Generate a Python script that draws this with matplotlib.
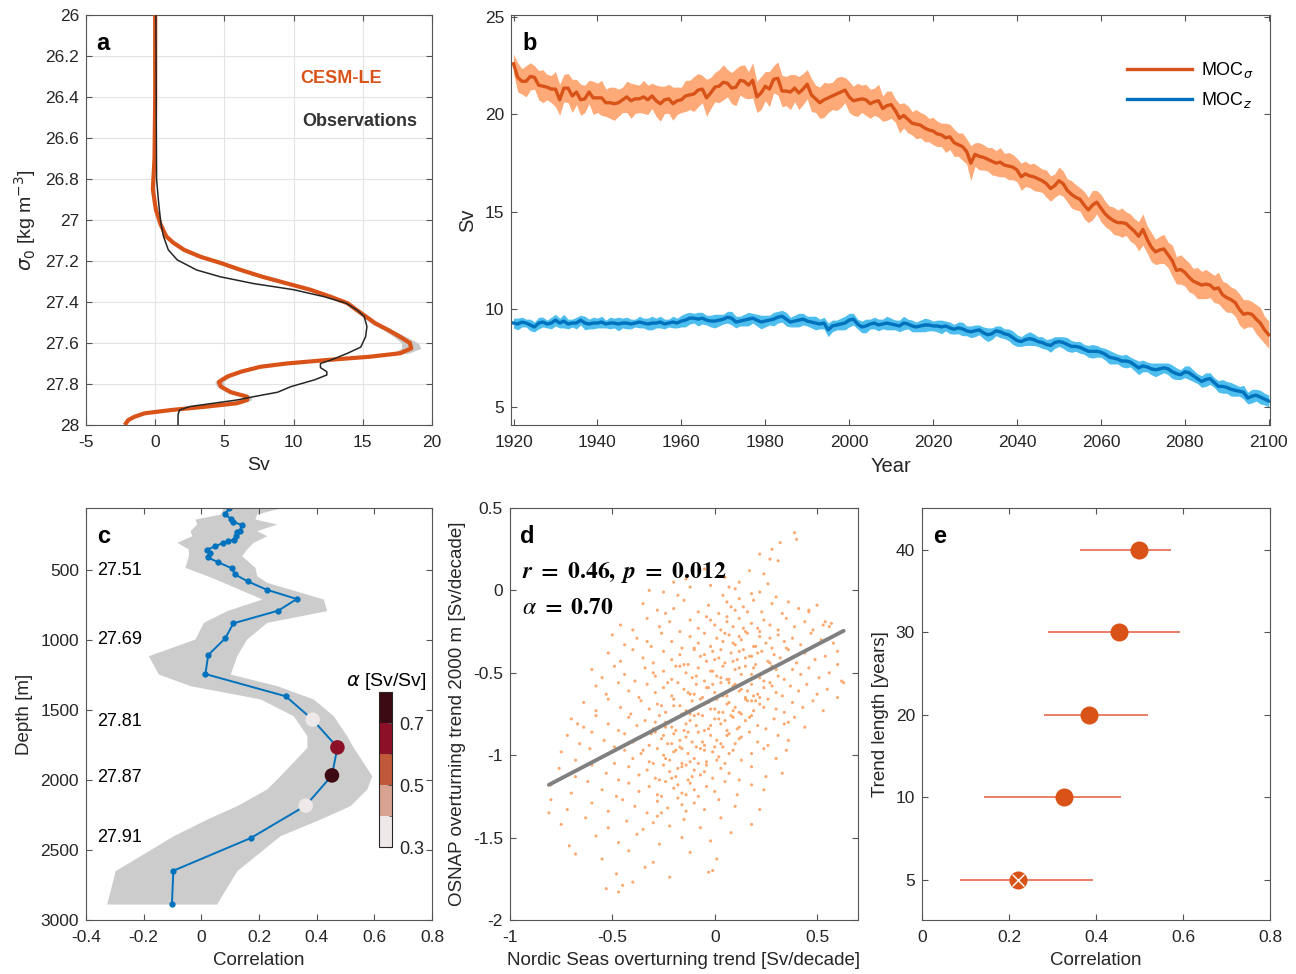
import numpy as np
import matplotlib
matplotlib.use("Agg")
import matplotlib.pyplot as plt
from matplotlib.colors import ListedColormap, BoundaryNorm
from matplotlib.ticker import FormatStrFormatter
import matplotlib.colorbar as mcolorbar

# -----------------------------
# DATA
# -----------------------------
# (a) overturning streamfunction in density space
cesm_sigma = [26.00, 26.40, 26.70, 26.85, 26.95, 27.02, 27.08, 27.11, 27.146, 27.18,
              27.21, 27.244, 27.277, 27.31, 27.34, 27.374, 27.406, 27.44, 27.47, 27.504,
              27.537, 27.57, 27.60, 27.626, 27.65, 27.667, 27.683, 27.70, 27.716, 27.74,
              27.764, 27.79, 27.813, 27.84, 27.862, 27.878, 27.894, 27.91, 27.927, 27.943,
              27.96, 27.976, 28.00]
cesm_sv = [0.0, 0.0, -0.05, -0.17, 0.05, 0.38, 0.8, 1.29, 2.1, 3.3,
           4.75, 6.2, 7.75, 9.55, 11.2, 12.66, 13.9, 14.58, 15.2, 15.9,
           16.85, 17.7, 18.4, 18.5, 17.7, 15.5, 12.4, 9.5, 7.6, 6.2,
           5.2, 4.6, 4.75, 5.46, 6.65, 6.65, 5.9, 3.75, 1.15, -0.77,
           -1.5, -1.95, -2.2]
cesm_spread = [0.0, 0.0, 0.05, 0.05, 0.05, 0.1, 0.15, 0.2, 0.25, 0.3,
               0.35, 0.35, 0.35, 0.3, 0.3, 0.3, 0.25, 0.25, 0.25, 0.3,
               0.35, 0.45, 0.6, 0.7, 0.6, 0.4, 0.3, 0.25, 0.25, 0.25,
               0.25, 0.3, 0.3, 0.3, 0.3, 0.3, 0.3, 0.25, 0.2, 0.15,
               0.1, 0.1, 0.1]
obs_sigma = [26.00, 26.80, 26.88, 26.95, 27.02, 27.08, 27.146, 27.195, 27.244, 27.277,
             27.31, 27.34, 27.374, 27.406, 27.44, 27.47, 27.52, 27.57, 27.62, 27.65,
             27.683, 27.70, 27.72, 27.74, 27.756, 27.78, 27.813, 27.84, 27.862, 27.878,
             27.894, 27.91, 27.927, 27.95, 28.00]
obs_sv = [0.05, 0.1, 0.2, 0.3, 0.42, 0.6, 0.95, 1.6, 3.0, 4.7,
          7.1, 10.0, 12.2, 13.8, 14.6, 15.1, 15.3, 15.2, 14.85, 13.9,
          12.7, 11.94, 11.94, 12.4, 12.4, 11.5, 9.8, 8.85, 7.1, 5.9,
          4.2, 2.5, 1.75, 1.65, 1.65]

# (b) MOC time series 1920-2100
years = np.arange(1920, 2101)
moc_sigma = [22.6, 21.9, 21.7, 21.7, 21.95, 21.9, 21.5, 21.45, 21.4, 21.3,
             21.3, 20.75, 21.35, 21.35, 20.95, 21.15, 20.75, 20.8, 21.15, 20.85,
             20.85, 20.85, 20.6, 20.6, 20.55, 20.6, 20.75, 20.9, 20.7, 20.8,
             20.8, 20.9, 20.75, 20.95, 20.7, 20.55, 20.75, 20.8, 20.55, 20.7,
             20.75, 20.95, 21.0, 21.05, 21.25, 21.3, 20.85, 21.1, 21.4, 21.45,
             21.65, 21.6, 21.35, 21.4, 21.75, 21.7, 21.5, 21.75, 20.9, 21.1,
             21.45, 21.3, 21.8, 21.85, 21.2, 21.2, 21.15, 21.35, 21.1, 21.3,
             21.55, 21.0, 20.8, 20.6, 20.75, 20.85, 20.95, 21.05, 21.15, 21.25,
             20.9, 20.7, 20.75, 20.8, 20.75, 20.55, 20.65, 20.7, 20.3, 20.45,
             20.5, 20.2, 19.8, 19.95, 19.75, 19.55, 19.5, 19.45, 19.3, 19.2,
             19.15, 19.0, 18.95, 18.8, 18.85, 18.55, 18.45, 18.35, 18.1, 17.5,
             17.95, 17.85, 17.8, 17.7, 17.6, 17.5, 17.55, 17.4, 17.35, 17.3,
             17.15, 16.8, 16.95, 16.85, 16.8, 16.7, 16.6, 16.45, 16.2, 16.35,
             16.6, 16.45, 16.1, 15.9, 15.75, 15.65, 15.35, 15.1, 15.35, 15.5,
             15.2, 14.9, 14.7, 14.55, 14.45, 14.45, 14.4, 14.2, 14.0, 13.75,
             14.1, 13.6, 13.2, 12.95, 13.05, 13.1, 12.8, 12.5, 12.0, 12.05,
             11.9, 11.65, 11.45, 11.35, 11.25, 11.3, 11.25, 11.05, 11.1, 10.75,
             10.6, 10.5, 10.35, 10.0, 9.75, 9.8, 9.75, 9.5, 9.3, 8.95,
             8.7]
moc_sigma_spread = [0.50, 0.75, 0.65, 0.80, 0.70, 0.60, 0.75, 0.85, 0.65, 0.70,
                    0.90, 0.80, 0.70, 0.75, 0.85, 0.65, 0.80, 0.70, 0.60, 0.85,
                    0.75, 0.90, 0.70, 0.80, 0.85, 0.70, 0.65, 0.80, 0.90, 0.75,
                    0.70, 0.85, 0.75, 0.65, 0.80, 0.90, 0.70, 0.75, 0.85, 0.70,
                    0.65, 0.80, 0.75, 0.90, 0.85, 0.70, 0.95, 0.80, 0.75, 0.85,
                    0.90, 0.70, 0.80, 0.95, 0.75, 0.85, 0.70, 0.90, 0.80, 0.85,
                    0.75, 0.90, 0.70, 0.85, 0.80, 0.75, 0.90, 0.70, 0.85, 0.80,
                    0.75, 0.85, 0.70, 0.80, 0.90, 0.75, 0.70, 0.85, 0.80, 0.65,
                    0.80, 0.75, 0.85, 0.70, 0.80, 0.75, 0.70, 0.85, 0.65, 0.75,
                    0.70, 0.60, 0.75, 0.65, 0.70, 0.60, 0.75, 0.65, 0.70, 0.60,
                    0.70, 0.65, 0.60, 0.75, 0.65, 0.70, 0.60, 0.70, 0.65, 0.90,
                    0.60, 0.70, 0.65, 0.60, 0.70, 0.65, 0.75, 0.60, 0.70, 0.65,
                    0.60, 0.70, 0.65, 0.60, 0.70, 0.65, 0.60, 0.70, 0.65, 0.60,
                    0.70, 0.65, 0.60, 0.70, 0.65, 0.60, 0.70, 0.65, 0.75, 0.60,
                    0.70, 0.65, 0.60, 0.70, 0.65, 0.75, 0.60, 0.70, 0.65, 0.75,
                    0.80, 0.70, 0.75, 0.65, 0.70, 0.75, 0.65, 0.80, 0.70, 0.75,
                    0.70, 0.75, 0.65, 0.80, 0.70, 0.75, 0.65, 0.70, 0.80, 0.70,
                    0.75, 0.65, 0.70, 0.80, 0.75, 0.70, 0.65, 0.75, 0.80, 0.70,
                    0.70]
moc_z = [9.3, 9.25, 9.35, 9.3, 9.2, 9.1, 9.3, 9.35, 9.25, 9.3,
         9.45, 9.3, 9.4, 9.25, 9.3, 9.3, 9.45, 9.3, 9.25, 9.3,
         9.3, 9.35, 9.25, 9.3, 9.3, 9.25, 9.3, 9.3, 9.25, 9.3,
         9.35, 9.3, 9.25, 9.3, 9.3, 9.35, 9.25, 9.3, 9.35, 9.3,
         9.4, 9.45, 9.55, 9.55, 9.5, 9.55, 9.45, 9.4, 9.4, 9.45,
         9.5, 9.6, 9.55, 9.35, 9.4, 9.45, 9.5, 9.55, 9.45, 9.35,
         9.4, 9.45, 9.5, 9.6, 9.65, 9.5, 9.35, 9.4, 9.45, 9.5,
         9.4, 9.35, 9.3, 9.25, 9.3, 8.95, 9.15, 9.2, 9.25, 9.3,
         9.45, 9.5, 9.25, 9.1, 9.15, 9.25, 9.3, 9.2, 9.25, 9.3,
         9.25, 9.2, 9.15, 9.3, 9.25, 9.15, 9.1, 9.15, 9.2, 9.2,
         9.15, 9.15, 9.1, 9.15, 9.05, 8.98, 9.05, 9.0, 8.9, 8.85,
         8.9, 8.95, 8.8, 8.7, 8.75, 8.9, 8.85, 8.75, 8.7, 8.55,
         8.4, 8.35, 8.45, 8.5, 8.45, 8.35, 8.3, 8.2, 8.15, 8.3,
         8.35, 8.3, 8.2, 8.1, 8.1, 8.05, 7.95, 7.85, 7.85, 7.85,
         7.8, 7.7, 7.55, 7.5, 7.45, 7.35, 7.35, 7.3, 7.15, 7.0,
         7.1, 7.05, 6.95, 6.9, 6.95, 7.0, 6.95, 6.8, 6.7, 6.65,
         6.8, 6.75, 6.6, 6.45, 6.3, 6.4, 6.45, 6.25, 6.05, 6.05,
         6.0, 5.9, 5.85, 5.8, 5.75, 5.45, 5.55, 5.6, 5.5, 5.4,
         5.3]
moc_z_spread = [0.25, 0.30, 0.25, 0.20, 0.30, 0.25, 0.30, 0.25, 0.20, 0.30,
                0.30, 0.25, 0.35, 0.25, 0.20, 0.30, 0.25, 0.35, 0.25, 0.30,
                0.25, 0.30, 0.20, 0.30, 0.25, 0.35, 0.25, 0.30, 0.25, 0.20,
                0.30, 0.25, 0.30, 0.35, 0.25, 0.30, 0.25, 0.20, 0.30, 0.25,
                0.30, 0.35, 0.30, 0.25, 0.35, 0.30, 0.25, 0.30, 0.35, 0.30,
                0.25, 0.30, 0.35, 0.30, 0.25, 0.30, 0.35, 0.25, 0.30, 0.35,
                0.30, 0.25, 0.35, 0.30, 0.30, 0.35, 0.25, 0.30, 0.35, 0.30,
                0.25, 0.30, 0.35, 0.25, 0.30, 0.35, 0.30, 0.25, 0.30, 0.35,
                0.35, 0.30, 0.25, 0.30, 0.35, 0.25, 0.30, 0.30, 0.25, 0.35,
                0.30, 0.25, 0.30, 0.35, 0.25, 0.30, 0.25, 0.30, 0.35, 0.30,
                0.25, 0.30, 0.35, 0.25, 0.30, 0.25, 0.30, 0.35, 0.25, 0.30,
                0.30, 0.25, 0.30, 0.35, 0.30, 0.25, 0.30, 0.25, 0.30, 0.35,
                0.30, 0.25, 0.30, 0.35, 0.30, 0.25, 0.30, 0.25, 0.35, 0.30,
                0.25, 0.30, 0.35, 0.30, 0.25, 0.30, 0.25, 0.30, 0.35, 0.30,
                0.25, 0.30, 0.35, 0.30, 0.25, 0.30, 0.35, 0.25, 0.30, 0.35,
                0.30, 0.25, 0.30, 0.35, 0.30, 0.25, 0.30, 0.35, 0.30, 0.25,
                0.30, 0.35, 0.30, 0.25, 0.30, 0.35, 0.30, 0.25, 0.30, 0.35,
                0.30, 0.35, 0.30, 0.25, 0.35, 0.30, 0.35, 0.30, 0.35, 0.30,
                0.30]

# (c) correlation vs depth
corr_depth = [57, 100, 136, 155, 178, 219, 231, 255, 283, 293,
              307, 331, 355, 379, 410, 445, 488, 531, 581, 641,
              707, 790, 881, 988, 1107, 1243, 1402, 1569, 1767, 1967,
              2183, 2414, 2648, 2886]
corr_value = [0.097, 0.083, 0.102, 0.109, 0.140, 0.134, 0.123, 0.120, 0.113, 0.094,
              0.074, 0.048, 0.019, 0.030, 0.022, 0.059, 0.106, 0.116, 0.161, 0.227,
              0.331, 0.267, 0.111, 0.083, 0.024, 0.014, 0.293, 0.386, 0.472, 0.453,
              0.362, 0.172, -0.097, -0.102]
band_depth = [57, 100, 136, 171, 219, 255, 302, 350, 398, 481,
              540, 588, 707, 790, 874, 993, 1112, 1243, 1326, 1421,
              1541, 1683, 1767, 1969, 2064, 2183, 2279, 2398, 2648, 2886]
band_lo = [0.076, 0.065, -0.022, -0.016, -0.039, -0.033, -0.085, -0.045, -0.045, -0.057,
           0.019, 0.076, 0.21, 0.088, 0.007, -0.022, -0.184, -0.149, -0.039, 0.204,
           0.319, 0.366, 0.366, 0.273, 0.227, 0.123, 0.019, -0.097, -0.299, -0.328]
band_hi = [0.273, 0.192, 0.186, 0.262, 0.192, 0.227, 0.180, 0.157, 0.140, 0.186,
           0.192, 0.227, 0.423, 0.435, 0.227, 0.157, 0.123, 0.100, 0.262, 0.388,
           0.458, 0.504, 0.527, 0.591, 0.574, 0.516, 0.412, 0.273, 0.123, 0.053]
alpha_depth = [1569, 1767, 1967, 2183]
alpha_corr = [0.386, 0.472, 0.453, 0.362]
alpha_value = [0.35, 0.65, 0.70, 0.35]
alpha_bounds = [0.3, 0.4, 0.5, 0.6, 0.7, 0.8]
alpha_colors = ['#EEE8E8', '#D9A391', '#C0583A', '#8C1028', '#3C0A12']
sigma_labels = ['27.51', '27.69', '27.81', '27.87', '27.91']
sigma_label_depth = [500, 993, 1579, 1979, 2414]

# (d) trends in the ensemble: (Nordic Seas, OSNAP) [Sv/decade]
trend_pairs = [
    (0.39, 0.35), (0.40, 0.31), (0.32, 0.29), (0.28, 0.25),
    (0.31, 0.18), (0.22, 0.22), (0.27, 0.19), (-0.20, 0.05),
    (0.05, 0.08), (0.17, 0.12), (0.24, 0.10), (-0.05, 0.13), (0.12, 0.05), (-0.14, 0.07),
    (-0.32, 0.00), (-0.25, -0.01), (-0.12, 0.02), (-0.02, 0.03), (0.04, -0.03), (0.10, 0.01),
    (0.18, -0.02), (0.26, 0.04), (0.30, -0.04), (-0.18, -0.03), (0.07, 0.02), (0.22, -0.01),
    (-0.35, -0.08), (-0.28, -0.12), (-0.20, -0.11), (-0.15, -0.06), (-0.08, -0.13), (-0.03, -0.09),
    (0.02, -0.14), (0.06, -0.07), (0.10, -0.12), (0.14, -0.10), (0.19, -0.06), (0.23, -0.13),
    (0.28, -0.08), (0.33, -0.14), (0.41, -0.11), (0.46, -0.12), (0.50, -0.09), (-0.24, -0.14),
    (0.08, -0.10), (0.16, -0.13), (0.36, -0.07), (0.12, -0.05), (0.46, -0.13), (0.54, -0.19),
    (0.56, -0.22), (0.60, -0.45), (0.63, -0.56),
    (-0.46, -0.21), (-0.40, -0.24), (-0.33, -0.17), (-0.27, -0.22), (-0.22, -0.19), (-0.17, -0.25),
    (-0.12, -0.18), (-0.08, -0.23), (-0.04, -0.16), (0.00, -0.21), (0.03, -0.24), (0.06, -0.19),
    (0.09, -0.22), (0.12, -0.17), (0.15, -0.25), (0.18, -0.20), (0.21, -0.23), (0.24, -0.18),
    (0.27, -0.21), (0.31, -0.24), (0.35, -0.17), (0.39, -0.22), (0.44, -0.19), (0.48, -0.24),
    (0.53, -0.21), (0.57, -0.20), (0.06, -0.16), (0.14, -0.23), (0.22, -0.25), (-0.02, -0.18),
    (-0.50, -0.27), (-0.44, -0.33), (-0.38, -0.29), (-0.31, -0.34), (-0.26, -0.26), (-0.21, -0.31),
    (-0.16, -0.35), (-0.12, -0.28), (-0.08, -0.32), (-0.05, -0.26), (-0.02, -0.34), (0.01, -0.29),
    (0.04, -0.31), (0.07, -0.27), (0.10, -0.33), (0.13, -0.30), (0.16, -0.26), (0.19, -0.34),
    (0.22, -0.28), (0.25, -0.32), (0.28, -0.35), (0.31, -0.27), (0.34, -0.31), (0.38, -0.29),
    (0.42, -0.33), (0.47, -0.26), (0.52, -0.30), (0.58, -0.32), (-0.10, -0.35), (0.05, -0.26),
    (0.12, -0.28), (0.20, -0.34), (0.27, -0.29), (0.35, -0.35), (-0.33, -0.31), (0.09, -0.32),
    (-0.52, -0.38), (-0.46, -0.43), (-0.40, -0.36), (-0.35, -0.41), (-0.30, -0.44), (-0.25, -0.37),
    (-0.21, -0.42), (-0.17, -0.39), (-0.13, -0.45), (-0.10, -0.36), (-0.07, -0.40), (-0.04, -0.43),
    (-0.01, -0.37), (0.02, -0.41), (0.05, -0.44), (0.08, -0.38), (0.11, -0.42), (0.14, -0.36),
    (0.17, -0.40), (0.20, -0.45), (0.23, -0.37), (0.26, -0.43), (0.29, -0.39), (0.32, -0.41),
    (0.36, -0.36), (0.40, -0.44), (0.44, -0.38), (0.49, -0.42), (0.54, -0.40), (0.60, -0.37),
    (-0.15, -0.45), (-0.05, -0.39), (0.03, -0.36), (0.09, -0.43), (0.15, -0.41), (0.21, -0.38),
    (0.27, -0.44), (0.12, -0.37), (0.00, -0.42), (0.18, -0.40),
    (-0.60, -0.48), (-0.55, -0.53), (-0.49, -0.46), (-0.44, -0.51), (-0.39, -0.55), (-0.34, -0.47),
    (-0.29, -0.52), (-0.25, -0.49), (-0.21, -0.54), (-0.17, -0.46), (-0.14, -0.50), (-0.11, -0.53),
    (-0.08, -0.47), (-0.05, -0.55), (-0.02, -0.49), (0.01, -0.52), (0.04, -0.46), (0.07, -0.54),
    (0.10, -0.48), (0.13, -0.51), (0.16, -0.55), (0.19, -0.47), (0.22, -0.53), (0.25, -0.49),
    (0.28, -0.46), (0.31, -0.52), (0.34, -0.54), (0.38, -0.48), (0.42, -0.51), (0.46, -0.47),
    (0.51, -0.53), (0.56, -0.50), (0.62, -0.55), (-0.19, -0.46), (-0.09, -0.52), (-0.01, -0.49),
    (0.06, -0.54), (0.12, -0.47), (0.18, -0.51), (0.24, -0.55), (0.30, -0.48), (0.03, -0.53),
    (0.15, -0.46), (-0.30, -0.50),
    (-0.58, -0.58), (-0.53, -0.63), (-0.47, -0.56), (-0.42, -0.61), (-0.37, -0.65), (-0.33, -0.57),
    (-0.29, -0.62), (-0.25, -0.59), (-0.21, -0.64), (-0.18, -0.56), (-0.15, -0.60), (-0.12, -0.63),
    (-0.09, -0.57), (-0.06, -0.65), (-0.03, -0.59), (0.00, -0.62), (0.03, -0.56), (0.06, -0.64),
    (0.09, -0.58), (0.12, -0.61), (0.15, -0.65), (0.18, -0.57), (0.21, -0.63), (0.24, -0.59),
    (0.27, -0.56), (0.30, -0.62), (0.33, -0.64), (0.37, -0.58), (0.41, -0.61), (0.45, -0.57),
    (0.50, -0.63), (0.55, -0.60), (0.60, -0.65), (-0.23, -0.56), (-0.13, -0.62), (-0.04, -0.59),
    (0.04, -0.64), (0.10, -0.57), (0.16, -0.61), (0.22, -0.65), (0.28, -0.58), (-0.10, -0.63),
    (0.07, -0.56), (0.13, -0.60), (0.19, -0.64), (-0.01, -0.57),
    (-0.64, -0.68), (-0.58, -0.73), (-0.52, -0.66), (-0.46, -0.71), (-0.41, -0.75), (-0.36, -0.67),
    (-0.32, -0.72), (-0.28, -0.69), (-0.24, -0.74), (-0.20, -0.66), (-0.17, -0.70), (-0.14, -0.73),
    (-0.11, -0.67), (-0.08, -0.75), (-0.05, -0.69), (-0.02, -0.72), (0.01, -0.66), (0.04, -0.74),
    (0.07, -0.68), (0.10, -0.71), (0.13, -0.75), (0.16, -0.67), (0.19, -0.73), (0.22, -0.69),
    (0.26, -0.66), (0.30, -0.72), (0.34, -0.74), (0.38, -0.68), (0.43, -0.71), (0.48, -0.67),
    (0.53, -0.73), (-0.26, -0.70), (-0.16, -0.75), (-0.07, -0.66), (0.00, -0.72), (0.06, -0.69),
    (0.12, -0.74), (0.18, -0.67), (0.24, -0.71), (-0.12, -0.75), (-0.03, -0.68), (0.09, -0.73),
    (0.15, -0.66), (-0.20, -0.70), (0.02, -0.74), (0.20, -0.67),
    (-0.70, -0.78), (-0.64, -0.83), (-0.58, -0.76), (-0.52, -0.81), (-0.47, -0.85), (-0.42, -0.77),
    (-0.38, -0.82), (-0.34, -0.79), (-0.30, -0.84), (-0.27, -0.76), (-0.24, -0.80), (-0.21, -0.83),
    (-0.18, -0.77), (-0.15, -0.85), (-0.12, -0.79), (-0.09, -0.82), (-0.06, -0.76), (-0.03, -0.84),
    (0.00, -0.78), (0.03, -0.81), (0.06, -0.85), (0.09, -0.77), (0.12, -0.83), (0.15, -0.79),
    (0.18, -0.76), (0.21, -0.82), (0.25, -0.84), (0.29, -0.78), (0.34, -0.81), (0.39, -0.77),
    (0.44, -0.83), (-0.29, -0.80), (-0.19, -0.85), (-0.10, -0.76), (-0.02, -0.82), (0.05, -0.79),
    (0.11, -0.84), (0.17, -0.77), (-0.14, -0.81), (-0.05, -0.85), (0.02, -0.78), (-0.24, -0.83),
    (0.08, -0.76), (0.36, -0.80), (-0.67, -0.81),
    (-0.72, -0.88), (-0.66, -0.93), (-0.60, -0.86), (-0.54, -0.91), (-0.49, -0.95), (-0.44, -0.87),
    (-0.40, -0.92), (-0.36, -0.89), (-0.32, -0.94), (-0.29, -0.86), (-0.26, -0.90), (-0.23, -0.93),
    (-0.20, -0.87), (-0.17, -0.95), (-0.14, -0.89), (-0.11, -0.92), (-0.08, -0.86), (-0.05, -0.94),
    (-0.02, -0.88), (0.01, -0.91), (0.04, -0.95), (0.07, -0.87), (0.10, -0.93), (0.13, -0.89),
    (0.17, -0.86), (0.21, -0.92), (0.26, -0.94), (0.31, -0.88), (0.36, -0.91), (-0.31, -0.87),
    (-0.21, -0.93), (-0.13, -0.86), (-0.06, -0.92), (0.00, -0.95), (0.06, -0.88), (-0.17, -0.91),
    (-0.09, -0.95), (-0.25, -0.88), (0.03, -0.93), (0.12, -0.90), (0.35, -0.97),
    (-0.75, -0.98), (-0.68, -1.03), (-0.61, -0.96), (-0.55, -1.01), (-0.49, -1.05), (-0.44, -0.97),
    (-0.40, -1.02), (-0.36, -0.99), (-0.32, -1.04), (-0.28, -0.96), (-0.25, -1.00), (-0.22, -1.03),
    (-0.19, -0.97), (-0.16, -1.05), (-0.13, -0.99), (-0.10, -1.02), (-0.07, -0.96), (-0.04, -1.04),
    (-0.01, -0.98), (0.02, -1.01), (0.05, -1.05), (0.09, -0.97), (0.13, -1.03), (0.18, -0.99),
    (0.24, -0.96), (0.30, -1.02), (-0.30, -1.05), (-0.20, -0.98), (-0.12, -1.04), (-0.05, -0.97),
    (0.01, -1.03), (-0.16, -0.96), (-0.08, -1.05), (-0.24, -1.02), (0.07, -0.99), (-0.35, -0.97),
    (-0.76, -1.08), (-0.68, -1.13), (-0.60, -1.06), (-0.53, -1.11), (-0.47, -1.15), (-0.42, -1.07),
    (-0.37, -1.12), (-0.33, -1.09), (-0.29, -1.14), (-0.25, -1.06), (-0.22, -1.10), (-0.19, -1.13),
    (-0.16, -1.07), (-0.13, -1.15), (-0.10, -1.09), (-0.07, -1.12), (-0.04, -1.06), (-0.01, -1.14),
    (0.03, -1.08), (0.07, -1.11), (0.12, -1.15), (0.18, -1.07), (0.25, -1.13), (0.33, -1.11),
    (-0.27, -1.15), (-0.18, -1.08), (-0.11, -1.13), (-0.05, -1.10), (-0.21, -1.14), (-0.14, -1.06),
    (-0.80, -1.18), (-0.70, -1.23), (-0.62, -1.16), (-0.55, -1.21), (-0.48, -1.25), (-0.42, -1.17),
    (-0.37, -1.22), (-0.32, -1.19), (-0.28, -1.24), (-0.24, -1.16), (-0.20, -1.20), (-0.16, -1.23),
    (-0.12, -1.17), (-0.08, -1.25), (-0.04, -1.19), (0.00, -1.22), (0.05, -1.16), (0.11, -1.24),
    (0.18, -1.18), (0.24, -1.21), (-0.26, -1.25), (-0.18, -1.18), (-0.10, -1.21), (-0.14, -1.24),
    (-0.80, -1.27), (-0.72, -1.33), (-0.60, -1.29), (-0.52, -1.34), (-0.45, -1.27), (-0.39, -1.31),
    (-0.33, -1.35), (-0.28, -1.28), (-0.23, -1.32), (-0.18, -1.26), (-0.14, -1.34), (-0.10, -1.29),
    (-0.05, -1.33), (0.02, -1.27), (0.10, -1.31), (0.22, -1.33), (-0.26, -1.35), (-0.16, -1.30),
    (-0.81, -1.35),
    (-0.75, -1.42), (-0.63, -1.38), (-0.52, -1.44), (-0.43, -1.40), (-0.35, -1.45), (-0.28, -1.37),
    (-0.22, -1.43), (-0.15, -1.39), (-0.07, -1.44), (0.03, -1.38), (0.18, -1.42), (-0.30, -1.41),
    (-0.71, -1.55), (-0.58, -1.49), (-0.47, -1.53), (-0.38, -1.48), (-0.27, -1.54), (-0.16, -1.50),
    (-0.02, -1.52), (0.08, -1.47),
    (-0.68, -1.60), (-0.55, -1.63), (-0.42, -1.58), (-0.30, -1.65), (0.01, -1.63), (-0.12, -1.59),
    (-0.48, -1.72), (-0.34, -1.68), (-0.22, -1.74), (-0.03, -1.71), (-0.01, -1.70),
    (-0.53, -1.81), (-0.47, -1.83), (-0.45, -1.79), (-0.40, -1.77),
]
fit_slope = 0.649
fit_intercept = -0.654
fit_xrange = [-0.81, 0.63]

# (e) correlation vs trend length (plotted at equally spaced rows)
trend_length = [5, 10, 20, 30, 40]
trend_corr = [0.221, 0.327, 0.385, 0.454, 0.498]
trend_corr_lo = [0.087, 0.143, 0.281, 0.290, 0.363]
trend_corr_hi = [0.394, 0.457, 0.519, 0.593, 0.572]
not_significant = [True, False, False, False, False]

# -----------------------------
# STYLE
# -----------------------------
ORANGE = '#D95319'
ORANGE_FILL = '#FDAA78'
BLUE = '#0072BD'
BLUE_FILL = '#4DBEEE'
SPINE = '#555555'
TXT = '#262626'

plt.rcParams['font.family'] = ['Liberation Sans', 'DejaVu Sans']
plt.rcParams['font.size'] = 12.5
plt.rcParams['axes.unicode_minus'] = False
plt.rcParams['axes.edgecolor'] = SPINE
plt.rcParams['axes.linewidth'] = 0.8
plt.rcParams['xtick.color'] = SPINE
plt.rcParams['ytick.color'] = SPINE
plt.rcParams['xtick.labelcolor'] = TXT
plt.rcParams['ytick.labelcolor'] = TXT
plt.rcParams['xtick.direction'] = 'in'
plt.rcParams['ytick.direction'] = 'in'
plt.rcParams['xtick.top'] = True
plt.rcParams['ytick.right'] = True
plt.rcParams['xtick.major.size'] = 4
plt.rcParams['ytick.major.size'] = 4
plt.rcParams['xtick.major.pad'] = 7
plt.rcParams['ytick.major.pad'] = 5
plt.rcParams['axes.labelcolor'] = TXT
plt.rcParams['axes.labelsize'] = 13.5
plt.rcParams['axes.labelpad'] = 5

W, H = 1296, 974
fig = plt.figure(figsize=(W / 100, H / 100), dpi=100)


def px_axes(left, top, right, bottom):
    return fig.add_axes([left / W, 1 - bottom / H, (right - left) / W, (bottom - top) / H])


def panel_letter(ax, s, x=0.05):
    ax.text(x, 0.93, s, transform=ax.transAxes, fontsize=17, fontweight='bold',
            ha='center', va='center', color='black')


# -----------------------------
# (a)
# -----------------------------
ax = px_axes(86, 15, 432, 425)
lo = np.array(cesm_sv) - np.array(cesm_spread)
hi = np.array(cesm_sv) + np.array(cesm_spread)
ax.fill_betweenx(cesm_sigma, lo, hi, color='#C8C8C8', lw=0, zorder=2)
ax.plot(cesm_sv, cesm_sigma, color=ORANGE, lw=3, zorder=3, solid_capstyle='butt')
ax.plot(obs_sv, obs_sigma, color='#262626', lw=1.1, zorder=4)
ax.set_xlim(-5, 20)
ax.set_ylim(28, 26)
ax.set_xticks([-5, 0, 5, 10, 15, 20])
ax.set_yticks(np.arange(26, 28.01, 0.2))
ax.yaxis.set_major_formatter(FormatStrFormatter('%g'))
ax.grid(True, color='#E3E3E3', lw=0.8)
ax.set_axisbelow(True)
ax.set_xlabel('Sv', fontsize=14)
ax.set_ylabel(r'$\sigma_0$ [kg m$^{-3}$]', fontsize=14)
ax.text(10.5, 26.31, 'CESM-LE', color=ORANGE, fontsize=13, fontweight='bold', va='center')
ax.text(10.65, 26.52, 'Observations', color='#333333', fontsize=13, fontweight='bold', va='center')
panel_letter(ax, 'a')

# -----------------------------
# (b)
# -----------------------------
ax = px_axes(511, 15, 1270, 425)
ms = np.array(moc_sigma)
mss = np.array(moc_sigma_spread)
mz = np.array(moc_z)
mzs = np.array(moc_z_spread)
ax.fill_between(years, ms - mss, ms + mss, color=ORANGE_FILL, lw=0)
ax.fill_between(years, mz - mzs, mz + mzs, color=BLUE_FILL, lw=0)
ax.plot(years, ms, color=ORANGE, lw=2.4, label=r'MOC$_\sigma$')
ax.plot(years, mz, color=BLUE, lw=2.4, label=r'MOC$_z$')
ax.set_xlim(1919.4, 2100.3)
ax.set_ylim(4.07, 25.1)
ax.set_xticks(np.arange(1920, 2101, 20))
ax.set_yticks([5, 10, 15, 20, 25])
ax.set_xlabel('Year', fontsize=14.5)
ax.set_ylabel('Sv', fontsize=14.5)
ax.legend(loc='upper right', frameon=False, handlelength=3.6, fontsize=13,
          bbox_to_anchor=(1.0, 0.93), labelspacing=0.55, handletextpad=0.5)
panel_letter(ax, 'b', x=0.025)

# -----------------------------
# (c)
# -----------------------------
ax = px_axes(86, 508, 432, 920)
ax.fill_betweenx(band_depth, band_lo, band_hi, color='#CCCCCC', lw=0)
ax.plot(corr_value, corr_depth, color=BLUE, lw=1.4, marker='o', ms=3.5)
cmap = ListedColormap(alpha_colors)
norm = BoundaryNorm(alpha_bounds, cmap.N)
ax.scatter(alpha_corr, alpha_depth, c=alpha_value, cmap=cmap, norm=norm, s=110,
           zorder=5, edgecolors='none')
for lab, d in zip(sigma_labels, sigma_label_depth):
    ax.text(-0.36, d, lab, fontsize=13, va='center', ha='left', color='black')
ax.set_xlim(-0.4, 0.8)
ax.set_ylim(3000, 57)
ax.set_xticks(np.arange(-0.4, 0.81, 0.2))
ax.xaxis.set_major_formatter(FormatStrFormatter('%g'))
ax.set_yticks([500, 1000, 1500, 2000, 2500, 3000])
ax.set_xlabel('Correlation')
ax.set_ylabel('Depth [m]')
panel_letter(ax, 'c')

cax = px_axes(379, 692, 392, 847)
cb = mcolorbar.ColorbarBase(cax, cmap=cmap, norm=norm, ticks=[0.3, 0.5, 0.7],
                            orientation='vertical')
cb.outline.set_edgecolor('#262626')
cb.outline.set_linewidth(0.8)
cax.tick_params(direction='in', length=3, labelsize=13, right=True, left=False, pad=5)
cax.yaxis.set_major_formatter(FormatStrFormatter('%g'))
fig.text(386 / W, 1 - 681 / H, r'$\alpha$ [Sv/Sv]', fontsize=14, ha='center', va='center',
         color='black')

# -----------------------------
# (d)
# -----------------------------
ax = px_axes(510, 508, 858, 920)
pts = np.array(trend_pairs)
ax.scatter(pts[:, 0], pts[:, 1], s=5, color='#FDA86E', edgecolors='none', zorder=2)
fx = np.array(fit_xrange)
ax.plot(fx, fit_intercept + fit_slope * fx, color='#808080', lw=2.8, zorder=3,
        solid_capstyle='round')
ax.set_xlim(-1, 0.7)
ax.set_ylim(-2, 0.5)
ax.set_xticks([-1, -0.5, 0, 0.5])
ax.set_yticks([-2, -1.5, -1, -0.5, 0, 0.5])
ax.xaxis.set_major_formatter(FormatStrFormatter('%g'))
ax.yaxis.set_major_formatter(FormatStrFormatter('%g'))
ax.set_xlabel('Nordic Seas overturning trend [Sv/decade]')
ax.set_ylabel('OSNAP overturning trend 2000 m [Sv/decade]')
ax.text(0.035, 0.845, r'$\mathbfit{r}\ \mathbf{=\ 0.46,}\ \mathbfit{p}\ \mathbf{=\ 0.012}$',
        transform=ax.transAxes, fontsize=17, va='center', ha='left', math_fontfamily='stix')
ax.text(0.035, 0.757, r'$\mathit{\alpha}\ \mathbf{=\ 0.70}$',
        transform=ax.transAxes, fontsize=17, va='center', ha='left', math_fontfamily='stix')
panel_letter(ax, 'd')

# -----------------------------
# (e)
# -----------------------------
ax = px_axes(922, 508, 1270, 920)
rows = np.arange(1, len(trend_length) + 1)
tc = np.array(trend_corr)
ax.errorbar(tc, rows,
            xerr=[tc - np.array(trend_corr_lo), np.array(trend_corr_hi) - tc],
            fmt='none', ecolor='#E8694A', elinewidth=1.2, capsize=0, zorder=2)
ax.plot(tc, rows, 'o', color=ORANGE, ms=13, mec='none', zorder=3)
ns = np.array(not_significant)
ax.plot(tc[ns], rows[ns], 'x', color='white', ms=8, mew=1.0, zorder=4)
ax.set_xlim(0, 0.8)
ax.set_ylim(0.51, 5.51)
ax.set_xticks([0, 0.2, 0.4, 0.6, 0.8])
ax.xaxis.set_major_formatter(FormatStrFormatter('%g'))
ax.set_yticks(rows)
ax.set_yticklabels([str(t) for t in trend_length])
ax.set_xlabel('Correlation')
ax.set_ylabel('Trend length [years]')
panel_letter(ax, 'e')

fig.savefig('out.png', dpi=100)
